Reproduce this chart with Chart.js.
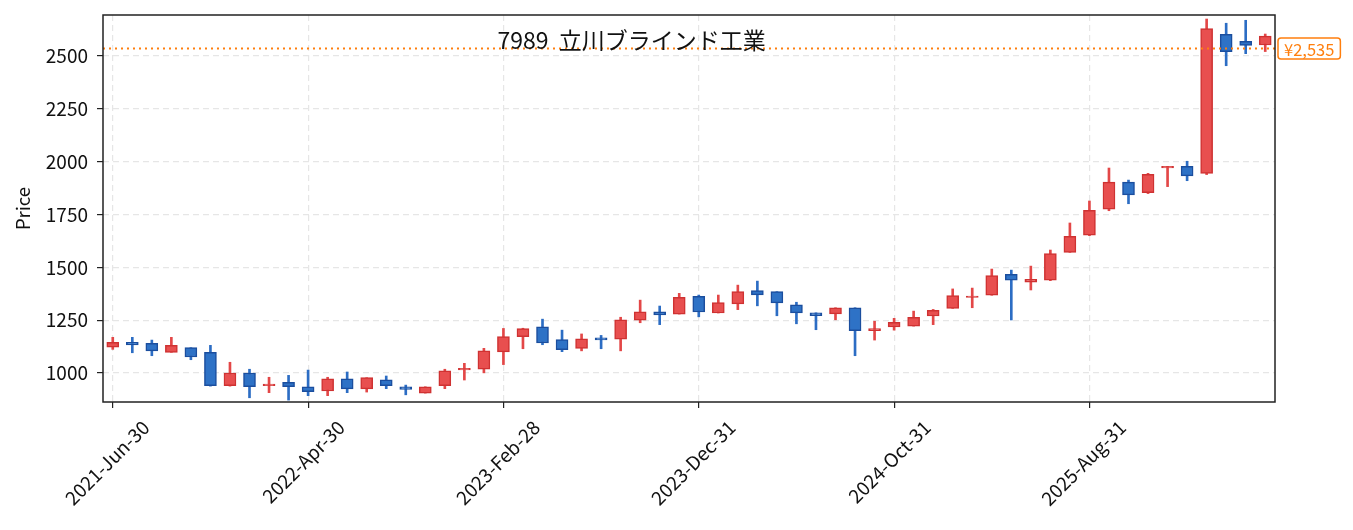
<!DOCTYPE html>
<html>
<head>
<meta charset="utf-8">
<script src="https://cdn.jsdelivr.net/npm/chart.js@4"></script>
<style>
  body { margin: 0; background: #fff; }
  #wrap { width: 1353px; height: 530px; }
</style>
</head>
<body>
<div id="wrap"><canvas id="chart" width="1353" height="530"></canvas></div>
<script>
// monthly candles, 7989
const labels = [
  "2021-Jun-30", "2021-Jul-31", "2021-Aug-31", "2021-Sep-30", "2021-Oct-31", "2021-Nov-30", "2021-Dec-31",
  "2022-Jan-31", "2022-Feb-28", "2022-Mar-31", "2022-Apr-30", "2022-May-31", "2022-Jun-30",
  "2022-Jul-31", "2022-Aug-31", "2022-Sep-30", "2022-Oct-31", "2022-Nov-30", "2022-Dec-31",
  "2023-Jan-31", "2023-Feb-28", "2023-Mar-31", "2023-Apr-30", "2023-May-31", "2023-Jun-30",
  "2023-Jul-31", "2023-Aug-31", "2023-Sep-30", "2023-Oct-31", "2023-Nov-30", "2023-Dec-31",
  "2024-Jan-31", "2024-Feb-29", "2024-Mar-31", "2024-Apr-30", "2024-May-31", "2024-Jun-30",
  "2024-Jul-31", "2024-Aug-31", "2024-Sep-30", "2024-Oct-31", "2024-Nov-30", "2024-Dec-31",
  "2025-Jan-31", "2025-Feb-28", "2025-Mar-31", "2025-Apr-30", "2025-May-31", "2025-Jun-30",
  "2025-Jul-31", "2025-Aug-31", "2025-Sep-30", "2025-Oct-31", "2025-Nov-30", "2025-Dec-31",
  "2026-Jan-31", "2026-Feb-28", "2026-Mar-31", "2026-Apr-30", "2026-May-31",
];
const opens = [
  1123, 1145, 1141, 1098, 1120, 1098, 940,
  1000, 940, 956, 935, 915, 973,
  925, 968, 935, 905, 940, 1015,
  1018, 1100, 1172, 1219, 1158, 1117,
  1167, 1160, 1250, 1290, 1279, 1363,
  1284, 1327, 1390, 1385, 1323, 1285,
  1280, 1309, 1200, 1218, 1222, 1270,
  1306, 1358, 1368, 1467, 1430, 1440,
  1571, 1652, 1775, 1903, 1853, 1970,
  1978, 1945, 2603, 2570, 2552,
];
const highs = [
  1169, 1169, 1156, 1169, 1120, 1131, 1051,
  1018, 980, 989, 1014, 980, 1005,
  978, 986, 943, 935, 1018, 1046,
  1117, 1211, 1212, 1255, 1203, 1185,
  1178, 1264, 1345, 1317, 1377, 1369,
  1369, 1416, 1435, 1385, 1335, 1285,
  1309, 1309, 1245, 1259, 1293, 1301,
  1398, 1402, 1492, 1487, 1506, 1582,
  1710, 1814, 1970, 1913, 1945, 1978,
  2002, 2675, 2655, 2669, 2604,
];
const lows = [
  1112, 1096, 1082, 1098, 1063, 938, 938,
  883, 907, 872, 893, 893, 907,
  910, 926, 897, 905, 926, 967,
  1001, 1040, 1115, 1134, 1101, 1105,
  1115, 1105, 1238, 1229, 1279, 1266,
  1284, 1300, 1318, 1271, 1233, 1205,
  1252, 1082, 1156, 1203, 1222, 1229,
  1306, 1309, 1368, 1251, 1393, 1437,
  1571, 1650, 1768, 1801, 1849, 1882,
  1910, 1939, 2454, 2511, 2521,
];
const closes = [
  1145, 1133, 1105, 1131, 1076, 940, 1000,
  935, 948, 935, 912, 973, 925,
  978, 940, 922, 935, 1011, 1022,
  1105, 1172, 1210, 1142, 1110, 1162,
  1157, 1252, 1290, 1275, 1358, 1289,
  1333, 1385, 1370, 1332, 1285, 1272,
  1309, 1200, 1210, 1240, 1264, 1297,
  1366, 1364, 1461, 1440, 1443, 1565,
  1647, 1770, 1903, 1843, 1940, 1978,
  1933, 2630, 2520, 2550, 2594,
];
const lastPrice = 2535;
const titleText = "7989  立川ブラインド工業";

const FONT = "'Noto Sans CJK JP', 'Noto Sans', sans-serif";
const up = closes.map((c, i) => c >= opens[i]);
const bodyFill = up.map(u => (u ? "#e84f4f" : "#2e72c6"));
const bodyEdge = up.map(u => (u ? "#cf3232" : "#1b4e9e"));
const wickCol = up.map(u => (u ? "#e34747" : "#2c6dc4"));

// frame, title and last price marker
const extras = {
  id: "extras",
  afterDatasetsDraw(chart) {
    const { ctx, chartArea: a, scales } = chart;
    const y = scales.y.getPixelForValue(lastPrice);
    ctx.save();
    ctx.strokeStyle = "#ff7f0e";
    ctx.lineWidth = 2;
    ctx.setLineDash([2, 4]);
    ctx.beginPath();
    ctx.moveTo(a.left, y);
    ctx.lineTo(a.right, y);
    ctx.stroke();
    ctx.restore();

    ctx.save();
    ctx.fillStyle = "#111";
    ctx.font = "23px " + FONT;
    ctx.textAlign = "center";
    ctx.textBaseline = "middle";
    ctx.fillText(titleText, a.left + (a.right - a.left) * 0.451, a.top + 25);
    ctx.restore();
  },
  afterDraw(chart) {
    const { ctx, chartArea: a, scales } = chart;
    ctx.save();
    ctx.strokeStyle = "#222";
    ctx.lineWidth = 1.5;
    ctx.strokeRect(a.left, a.top, a.right - a.left, a.bottom - a.top);

    const y = scales.y.getPixelForValue(lastPrice);
    const txt = "¥" + lastPrice.toLocaleString("en-US");
    ctx.font = "16.5px " + FONT;
    const w = ctx.measureText(txt).width + 12;
    const x0 = a.right + 3;
    ctx.fillStyle = "#fff";
    ctx.strokeStyle = "#ff7f0e";
    ctx.lineWidth = 1.5;
    ctx.beginPath();
    ctx.roundRect(x0, y - 10.5, w, 21, 3);
    ctx.fill();
    ctx.stroke();
    ctx.fillStyle = "#ff7f0e";
    ctx.textBaseline = "middle";
    ctx.fillText(txt, x0 + 6, y + 1);
    ctx.restore();
  },
};

const data = {
  labels,
  datasets: [
    {
      label: "wick",
      data: lows.map((l, i) => [l, highs[i]]),
      backgroundColor: wickCol,
      barThickness: 2,
      grouped: false,
      order: 2,
    },
    {
      label: "body",
      data: opens.map((o, i) => [o, closes[i]]),
      backgroundColor: bodyFill,
      borderColor: bodyEdge,
      borderWidth: 1.5,
      borderSkipped: false,
      barThickness: 12,
      grouped: false,
      order: 1,
    },
  ],
};

const config = {
  type: "bar",
  data,
  plugins: [extras],
  options: {
    responsive: false,
    animation: false,
    layout: { padding: { top: 15, right: 78, left: 0, bottom: 0 } },
    plugins: { legend: { display: false }, tooltip: { enabled: false } },
    scales: {
      x: {
        offset: true,
        afterFit: (s) => { s.height = 128; },
        grid: {
          offset: false,
          color: (c) => (c.index % 10 === 0 ? "#e6e6e6" : "transparent"),
          tickColor: (c) => (c.index % 10 === 0 ? "#222" : "transparent"),
          lineWidth: 1.2,
          tickLength: 6,
        },
        border: { display: false, dash: [6, 4] },
        ticks: {
          autoSkip: false,
          minRotation: 45,
          maxRotation: 45,
          color: "#111",
          font: { family: FONT, size: 19 },
          padding: 8,
          labelOffset: 33,
          callback: (v, i) => (i % 10 === 0 ? labels[i] : ""),
        },
      },
      y: {
        min: 863,
        max: 2694,
        afterFit: (s) => {
          s.width = 103;
          s.paddingTop = 0;
          s.paddingBottom = 0;
        },
        grid: { color: "#e6e6e6", lineWidth: 1.2, tickColor: "#222", tickLength: 6 },
        border: { display: false, dash: [6, 4] },
        ticks: {
          stepSize: 250,
          includeBounds: false,
          color: "#111",
          font: { family: FONT, size: 19 },
          padding: 9,
          callback: (v) => String(v),
        },
        title: {
          display: true,
          text: "Price",
          color: "#111",
          font: { family: FONT, size: 18.5 },
          padding: { top: 12, bottom: 0 },
        },
      },
    },
  },
};

const myChart = new Chart(document.getElementById("chart"), config);
</script>
</body>
</html>
